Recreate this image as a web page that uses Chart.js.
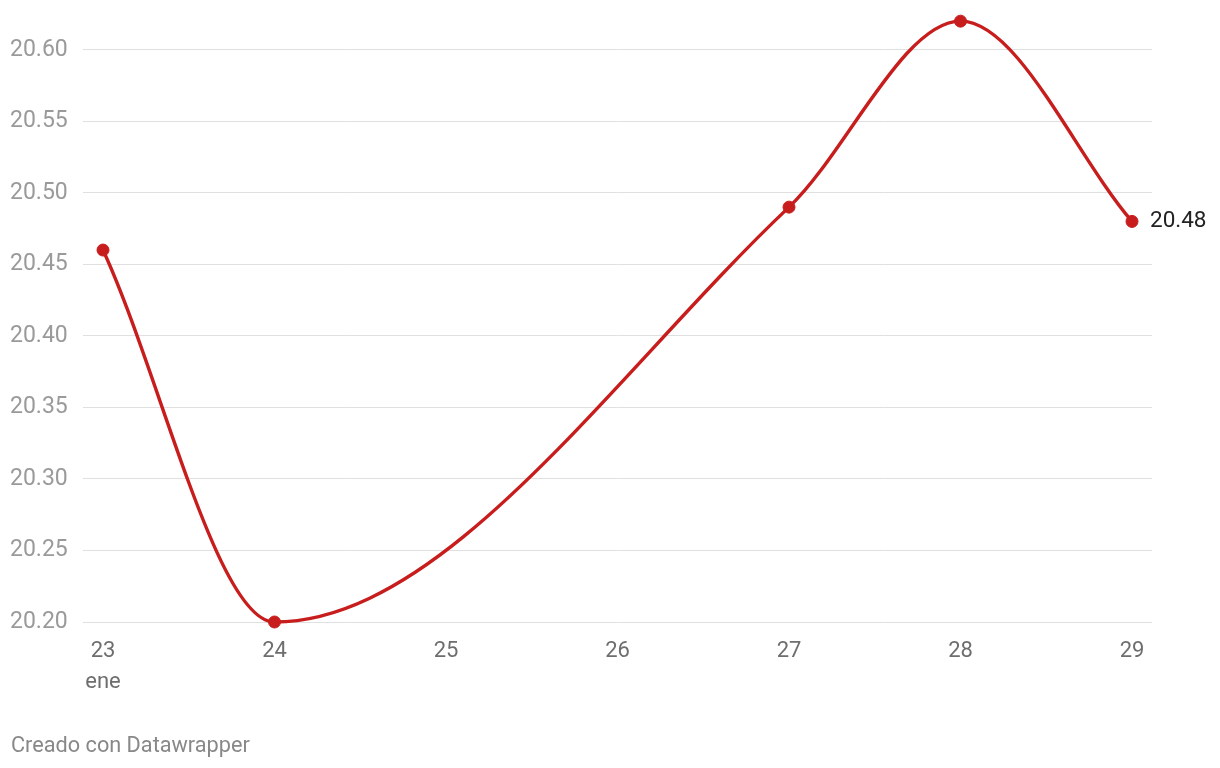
<!DOCTYPE html>
<html>
<head>
<meta charset="utf-8">
<script src="https://cdn.jsdelivr.net/npm/chart.js@4"></script>
<style>
  html, body { margin: 0; padding: 0; background: #fff; }
  #wrap { position: relative; width: 1220px; height: 768px; }
  #credit { position: absolute; left: 11px; top: 732px; font: 21.7px Roboto, sans-serif; color: #888; line-height: 26px; }
</style>
</head>
<body>
<div id="wrap">
  <canvas id="c" width="1220" height="768"></canvas>
  <div id="credit">Creado con Datawrapper</div>
</div>
<script>
const days = [23, 24, 27, 28, 29];
const values = [20.46, 20.20, 20.49, 20.62, 20.48];
const xTicks = [23, 24, 25, 26, 27, 28, 29];
const yTicks = [20.20, 20.25, 20.30, 20.35, 20.40, 20.45, 20.50, 20.55, 20.60];
const monthLabel = 'ene';
const lineColor = '#c71e1d';

const endLabel = {
  id: 'endLabel',
  afterDatasetsDraw(chart) {
    const meta = chart.getDatasetMeta(0);
    const pt = meta.data[meta.data.length - 1];
    const ctx = chart.ctx;
    ctx.save();
    ctx.font = '22.5px Roboto';
    ctx.fillStyle = '#222';
    ctx.textBaseline = 'middle';
    ctx.textAlign = 'left';
    ctx.fillText(values[values.length - 1].toFixed(2), pt.x + 18, pt.y);
    ctx.restore();
  }
};

new Chart(document.getElementById('c'), {
  type: 'line',
  data: {
    datasets: [{
      data: days.map((d, i) => ({ x: d, y: values[i] })),
      borderColor: lineColor,
      backgroundColor: lineColor,
      borderWidth: 3.4,
      pointRadius: 6,
      pointBackgroundColor: lineColor,
      pointBorderColor: lineColor,
      pointBorderWidth: 1,
      cubicInterpolationMode: 'monotone',
      clip: false,
      fill: false
    }]
  },
  options: {
    responsive: false,
    animation: false,
    layout: { padding: { left: 10, right: 68, top: 14, bottom: 0 } },
    plugins: { legend: { display: false }, tooltip: { enabled: false } },
    scales: {
      x: {
        type: 'linear',
        min: 23 - 20 / 171.5,
        max: 29 + 20 / 171.5,
        afterBuildTicks(axis) { axis.ticks = xTicks.map(v => ({ value: v })); },
        afterFit(axis) { axis.height = 768 - 622; },
        grid: { display: false, drawTicks: false },
        border: { display: false },
        ticks: {
          padding: 14,
          font: { family: 'Roboto', size: 22, lineHeight: 1.4 },
          color: '#6e6e6e',
          maxRotation: 0,
          callback: (v) => v === 23 ? [String(v), monthLabel] : String(v)
        }
      },
      y: {
        min: 20.20,
        max: 20.625,
        afterBuildTicks(axis) { axis.ticks = yTicks.map(v => ({ value: v })); },
        afterFit(axis) { axis.width = 73; },
        grid: { color: '#e0e0e0', lineWidth: 1, drawTicks: false },
        border: { display: false },
        ticks: {
          crossAlign: 'far',
          padding: 0,
          font: { family: 'Roboto', size: 23 },
          color: '#9a9a9a',
          callback: (v) => Number(v).toFixed(2)
        }
      }
    }
  },
  plugins: [endLabel]
});
</script>
</body>
</html>
